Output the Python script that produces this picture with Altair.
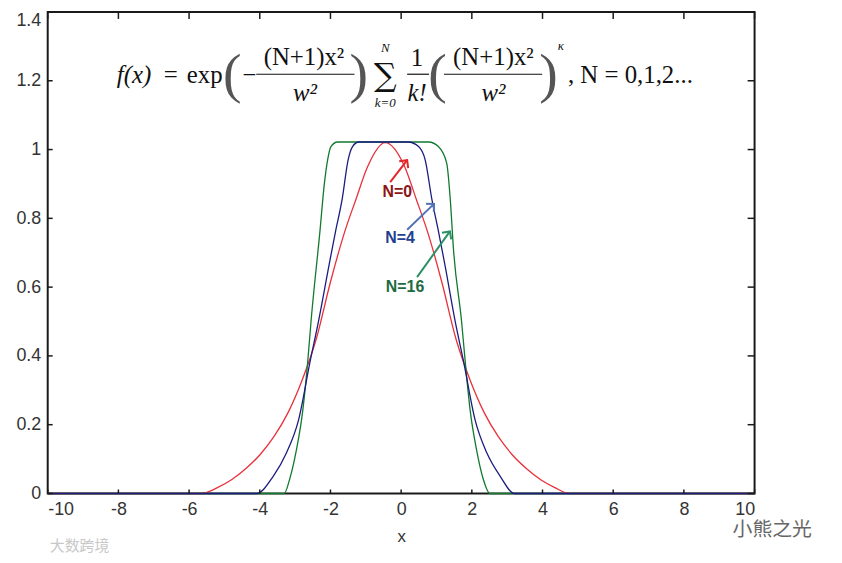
import math
import altair as alt
import pandas as pd

# ---------------- data ----------------
red_x = [-10, -5.64, -5.2, -4.8, -4.4, -4.0, -3.6, -3.2, -2.8, -2.4, -2.0, -1.6, -1.28, -0.95, -0.45,
         0.10, 0.43, 0.75, 1.15, 1.55, 1.95, 2.35, 2.75, 3.15, 3.55, 3.95, 4.35, 4.76, 10]
red_y = [0, 0, 0.017, 0.040, 0.072, 0.112, 0.165, 0.235, 0.33, 0.45, 0.615, 0.76, 0.855, 0.95, 1.02,
         0.95, 0.855, 0.76, 0.615, 0.45, 0.33, 0.235, 0.165, 0.112, 0.072, 0.040, 0.017, 0, 0]

blue_x = [-10, -4.09, -3.62, -3.24, -2.9, -2.57, -2.34, -2.04, -1.86, -1.67, -1.5, -1.38, -1.2,
          0.2, 0.5, 0.68, 0.87, 1.06, 1.24, 1.53, 1.76, 2.09, 2.42, 2.79, 3.21, 10]
blue_y = [0, 0, 0.050, 0.119, 0.215, 0.387, 0.50, 0.664, 0.76, 0.855, 0.97, 1.008, 1.022,
          1.022, 1.008, 0.97, 0.855, 0.76, 0.664, 0.50, 0.387, 0.215, 0.119, 0.052, 0, 0]

green_x = [-10, -3.31, -3.15, -2.97, -2.78, -2.64, -2.55, -2.3, -2.17, -2.08, -1.99, -1.8,
           0.78, 1.06, 1.29, 1.39, 1.48, 1.71, 1.81, 1.95, 2.13, 2.32, 2.51, 10]
green_y = [0, 0, 0.043, 0.123, 0.244, 0.387, 0.50, 0.76, 0.903, 0.97, 1.008, 1.022,
           1.022, 1.008, 0.96, 0.855, 0.711, 0.50, 0.387, 0.244, 0.129, 0.043, 0, 0]

x_ticks = [-10, -8, -6, -4, -2, 0, 2, 4, 6, 8, 10]
y_ticks = [0, 0.2, 0.4, 0.6, 0.8, 1, 1.2, 1.4]

label_text = ["N=0", "N=4", "N=16"]
label_x = [-0.11, -0.03, 0.11]
label_y = [0.877, 0.742, 0.601]
label_color = ["#8b1414", "#22408e", "#1d6b40"]

arrow_x1 = [-0.31, 0.17, 0.45]
arrow_y1 = [0.905, 0.767, 0.629]
arrow_x2 = [0.17, 0.93, 1.38]
arrow_y2 = [0.969, 0.842, 0.762]
arrow_color = ["#e3262c", "#5272b4", "#2b9163"]

# formula pieces (text, x, y)
f_norm_text = ["=", "exp", "\u2212", "(N+1)x\u00b2", "1", "(N+1)x\u00b2", ", N = 0,1,2..."]
f_norm_x = [-6.52, -5.56, -4.30, -2.75, 0.45, 2.61, 4.72]
f_norm_y = [1.216, 1.216, 1.216, 1.270, 1.265, 1.270, 1.216]
f_norm_align = ["center", "center", "center", "center", "center", "center", "left"]

f_ital_text = ["f(x)", "w\u00b2", "k!", "w\u00b2"]
f_ital_x = [-7.56, -2.72, 0.45, 2.61]
f_ital_y = [1.216, 1.164, 1.164, 1.164]

f_small_text = ["N", "k=0", "\u03ba"]
f_small_x = [-0.45, -0.45, 4.52]
f_small_y = [1.296, 1.136, 1.302]

f_paren_text = ["(", ")", "(", ")"]
f_paren_x = [-4.78, -1.20, 1.03, 4.17]
f_paren_y = [1.216, 1.216, 1.216, 1.216]

f_sum_text = ["\u2211"]
f_sum_x = [-0.45]
f_sum_y = [1.214]

bar_x1 = [-4.10, 0.17, 1.21]
bar_x2 = [-1.32, 0.79, 3.99]
bar_y = [1.219, 1.219, 1.219]

wm_text = ["小熊之光", "大数跨境"]
wm_x = [10.5, -9.1]
wm_y = [-0.105, -0.152]
wm_color = ["#666666", "#c8c8c8"]
wm_size = [20, 15]

# ---------------- chart ----------------
W, H = 712, 485
xs = alt.Scale(domain=[-10, 10], nice=False, zero=False)
ys = alt.Scale(domain=[0, 1.4], nice=False, zero=False)
X_AX = alt.Axis(values=x_ticks, labelExpr="'' + datum.value", title="x", labelPadding=7, titlePadding=10)
Y_AX = alt.Axis(values=y_ticks, labelExpr="'' + datum.value", title="", labelPadding=7,
                labelBaseline={"condition": {"test": "datum.value >= 1.39", "value": "top"},
                               "value": "middle"})


def X(f):
    return alt.X(f, scale=xs, axis=X_AX)


def Y(f):
    return alt.Y(f, scale=ys, axis=Y_AX)


def curve(xv, yv, color):
    df = pd.DataFrame({"x": xv, "y": yv})
    return alt.Chart(df).mark_line(color=color, strokeWidth=1.3, interpolate="monotone").encode(
        x=X("x:Q"), y=Y("y:Q"))


red = curve(red_x, red_y, "#e8303a")
green = curve(green_x, green_y, "#0f7a2e")
blue = curve(blue_x, blue_y, "#1c1c80")

# inward ticks on all four sides
xt = pd.DataFrame({"x": x_ticks})
yt = pd.DataFrame({"y": y_ticks})
tick_style = dict(color="#1a1a1a", strokeWidth=1.5)
top_ticks = alt.Chart(xt).mark_rule(**tick_style).encode(
    x=X("x:Q"), y=alt.value(0), y2=alt.value(7))
bot_ticks = alt.Chart(xt).mark_rule(**tick_style).encode(
    x=X("x:Q"), y=alt.value(H), y2=alt.value(H - 4))
left_ticks = alt.Chart(yt).mark_rule(**tick_style).encode(
    y=Y("y:Q"), x=alt.value(0), x2=alt.value(5))
right_ticks = alt.Chart(yt).mark_rule(**tick_style).encode(
    y=Y("y:Q"), x=alt.value(W), x2=alt.value(W - 7))

# N labels
lab_df = pd.DataFrame({"t": label_text, "x": label_x, "y": label_y, "c": label_color})
labels = alt.Chart(lab_df).mark_text(font="Liberation Sans", fontWeight="bold", fontSize=16,
                                     baseline="middle").encode(
    x=X("x:Q"), y=Y("y:Q"), text="t:N", color=alt.Color("c:N", scale=None))

# arrows
arr_df = pd.DataFrame({"x1": arrow_x1, "y1": arrow_y1, "x2": arrow_x2, "y2": arrow_y2, "c": arrow_color})
arr_df["ang"] = [math.degrees(math.atan2((b - a) * W / 20.0, (d - c) * H / 1.4))
                 for a, b, c, d in zip(arrow_x1, arrow_x2, arrow_y1, arrow_y2)]
shafts = alt.Chart(arr_df).mark_rule(strokeWidth=2).encode(
    x=X("x1:Q"), y=Y("y1:Q"), x2="x2:Q", y2="y2:Q", color=alt.Color("c:N", scale=None))
heads = alt.Chart(arr_df).mark_point(shape="M -1 1 L 0 0 L 1 1", filled=False, strokeWidth=2,
                                     size=130, opacity=1).encode(
    x=X("x2:Q"), y=Y("y2:Q"), angle=alt.Angle("ang:Q", scale=None), color=alt.Color("c:N", scale=None))

# formula
serif = "Liberation Serif"
fn_df = pd.DataFrame({"t": f_norm_text, "x": f_norm_x, "y": f_norm_y, "a": f_norm_align})
fn_center = alt.Chart(fn_df[fn_df["a"] == "center"]).mark_text(
    font=serif, fontSize=25, color="#111", baseline="middle", align="center").encode(
    x=X("x:Q"), y=Y("y:Q"), text="t:N")
fn_left = alt.Chart(fn_df[fn_df["a"] == "left"]).mark_text(
    font=serif, fontSize=25, color="#111", baseline="middle", align="left").encode(
    x=X("x:Q"), y=Y("y:Q"), text="t:N")
fi_df = pd.DataFrame({"t": f_ital_text, "x": f_ital_x, "y": f_ital_y})
fi = alt.Chart(fi_df).mark_text(font=serif, fontSize=25, fontStyle="italic", color="#111",
                                baseline="middle", align="center").encode(
    x=X("x:Q"), y=Y("y:Q"), text="t:N")
fs_df = pd.DataFrame({"t": f_small_text, "x": f_small_x, "y": f_small_y})
fs = alt.Chart(fs_df).mark_text(font=serif, fontSize=13, fontStyle="italic", color="#111",
                                baseline="middle", align="center").encode(
    x=X("x:Q"), y=Y("y:Q"), text="t:N")
fp_df = pd.DataFrame({"t": f_paren_text, "x": f_paren_x, "y": f_paren_y})
fp = alt.Chart(fp_df).mark_text(font=serif, fontSize=56, color="#555",
                                baseline="middle", align="center").encode(
    x=X("x:Q"), y=Y("y:Q"), text="t:N")
fsum_df = pd.DataFrame({"t": f_sum_text, "x": f_sum_x, "y": f_sum_y})
fsum = alt.Chart(fsum_df).mark_text(font="DejaVu Serif", fontSize=32, color="#111",
                                    baseline="middle", align="center").encode(
    x=X("x:Q"), y=Y("y:Q"), text="t:N")
bars_df = pd.DataFrame({"x1": bar_x1, "x2": bar_x2, "y": bar_y})
bars = alt.Chart(bars_df).mark_rule(color="#111", strokeWidth=1.2).encode(
    x=X("x1:Q"), x2="x2:Q", y=Y("y:Q"))

# watermarks
wm_df = pd.DataFrame({"t": wm_text, "x": wm_x, "y": wm_y, "c": wm_color, "s": wm_size})
wm = alt.Chart(wm_df).mark_text(font="Noto Sans CJK SC", baseline="middle", align="center").encode(
    x=X("x:Q"), y=Y("y:Q"), text="t:N",
    color=alt.Color("c:N", scale=None), size=alt.Size("s:Q", scale=None))

chart = alt.layer(
    red, green, blue,
    top_ticks, bot_ticks, left_ticks, right_ticks,
    shafts, heads, labels,
    bars, fn_center, fn_left, fi, fs, fp, fsum, wm,
).properties(
    width=W, height=H,
    padding={"left": 40, "top": 2, "right": 80, "bottom": 66},
    autosize=alt.AutoSizeParams(type="none"),
).configure_axis(
    labelFont="Liberation Sans", labelFontSize=18, labelColor="#333",
    titleFont="Liberation Sans", titleFontSize=17, titleFontWeight="normal", titleColor="#333",
    ticks=False, domain=False, grid=False,
).configure_view(stroke="#1a1a1a", strokeWidth=2)

chart.save("out.html", embed_options={"renderer": "svg", "actions": False})
